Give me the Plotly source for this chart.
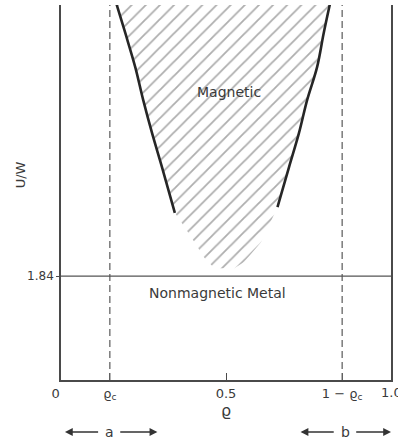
import plotly.graph_objects as go

# ---- data ----
rho_c = 0.148
u_crit = 1.84

# left boundary of magnetic region (solid curve)
left_rho = [0.168, 0.195, 0.225, 0.249, 0.276, 0.306, 0.345]
left_u = [6.66, 6.14, 5.54, 4.96, 4.37, 3.77, 2.96]
# right boundary (solid curve)
right_rho = [0.815, 0.796, 0.776, 0.746, 0.721, 0.691, 0.656]
right_u = [6.66, 6.14, 5.54, 4.96, 4.37, 3.77, 3.06]
# lower, unmarked continuation of the hatched region (left -> bottom -> right)
low_rho = [0.39, 0.435, 0.465, 0.525, 0.555, 0.606]
low_u = [2.57, 2.16, 1.98, 1.98, 2.09, 2.44]

x_tickvals = [0.0, rho_c, 0.5, 1 - rho_c]
x_ticktext = ["0\u2007\u2009", "ϱ<sub>c</sub>", "0.5", "1 − ϱ<sub>c</sub>"]

FONT = "DejaVu Sans"
TXT = "#3a3a3a"
LINE = "#4a4a4a"

fig = go.Figure()

# hatched region polygon
poly_x = left_rho + low_rho + right_rho[::-1]
poly_u = left_u + low_u + right_u[::-1]
fig.add_trace(go.Scatter(
    x=poly_x, y=poly_u, mode="lines", fill="toself",
    line=dict(width=0, color="rgba(0,0,0,0)"),
    fillcolor="rgba(0,0,0,0)",
    fillpattern=dict(shape="/", size=10, solidity=0.18, fgcolor="#5e5e5e", bgcolor="rgba(255,255,255,0)"),
    hoverinfo="skip", showlegend=False,
))

# solid boundary curves
for xs, ys in [(left_rho, left_u), (right_rho, right_u)]:
    fig.add_trace(go.Scatter(
        x=xs, y=ys, mode="lines", line=dict(color="#262626", width=2.6, shape="spline"),
        hoverinfo="skip", showlegend=False,
    ))

# dashed vertical lines at rho_c and 1-rho_c
for xv in [rho_c, 1 - rho_c]:
    fig.add_shape(type="line", xref="x", yref="paper", x0=xv, x1=xv, y0=0, y1=1,
                  line=dict(color="#666666", width=1.3, dash="7px,4px"))

# horizontal line at U/W = 1.84
fig.add_shape(type="line", xref="paper", yref="y", x0=0, x1=1, y0=u_crit, y1=u_crit,
              line=dict(color="#555555", width=1.2))

# region labels
fig.add_annotation(x=0.51, y=5.10, text="Magnetic", showarrow=False,
                   font=dict(family=FONT, size=14, color=TXT))
fig.add_annotation(x=0.473, y=1.54, text="Nonmagnetic Metal", showarrow=False,
                   font=dict(family=FONT, size=14, color=TXT))

# "1.0" tick label at right edge (partly cut off like the reference)
fig.add_annotation(xref="x", yref="paper", x=1.0, y=-0.032, text="1.0", showarrow=False,
                   xanchor="center", yanchor="middle", font=dict(family=FONT, size=13, color=TXT))

# axis titles
fig.add_annotation(xref="paper", yref="paper", x=-0.123, y=0.547, text="U/W", textangle=-90,
                   xanchor="center", yanchor="middle",
                   showarrow=False, font=dict(family=FONT, size=13, color=TXT))
fig.add_annotation(xref="x", yref="paper", x=0.5, y=-0.08, text="ϱ", showarrow=False,
                   xanchor="center", yanchor="middle",
                   font=dict(family=FONT, size=16, color=TXT))

# a / b arrows
ya = -0.1387
for label, xc, segs in [("a", rho_c, [(0.117, 0.012), (0.175, 0.292)]),
                        ("b", 0.861, [(0.831, 0.726), (0.89, 1.0)])]:
    fig.add_annotation(xref="x", yref="paper", x=xc, y=ya, text=label, showarrow=False,
                       xanchor="center", yanchor="middle",
                       font=dict(family=FONT, size=14, color=TXT))
    for x0, x1 in segs:
        fig.add_annotation(xref="x", yref="paper", x=x1, y=ya, axref="x", ayref="pixel",
                           ax=x0, ay=0, text="", showarrow=True, arrowhead=2,
                           arrowsize=1.2, arrowwidth=1.3, arrowcolor="#333333",
                           standoff=0, startstandoff=0)

fig.update_layout(
    width=398, height=444,
    margin=dict(l=61, r=5, t=5, b=64),
    paper_bgcolor="white", plot_bgcolor="white",
    showlegend=False,
    font=dict(family=FONT, color=TXT),
    xaxis=dict(range=[0, 1], tickvals=x_tickvals, ticktext=x_ticktext,
               ticks="inside", ticklen=7, tickcolor=LINE, tickwidth=1.2,
               showline=True, linecolor=LINE, linewidth=2, mirror=False,
               showgrid=False, zeroline=False, tickfont=dict(size=13, color=TXT)),
    yaxis=dict(range=[0, 6.64], tickvals=[u_crit], ticktext=["1.84"],
               ticks="outside", ticklen=3, tickcolor=LINE,
               showline=True, linecolor=LINE, linewidth=1.6, mirror=True,
               showgrid=False, zeroline=False, tickfont=dict(size=12, color=TXT)),
)

fig.write_html("out.html")
